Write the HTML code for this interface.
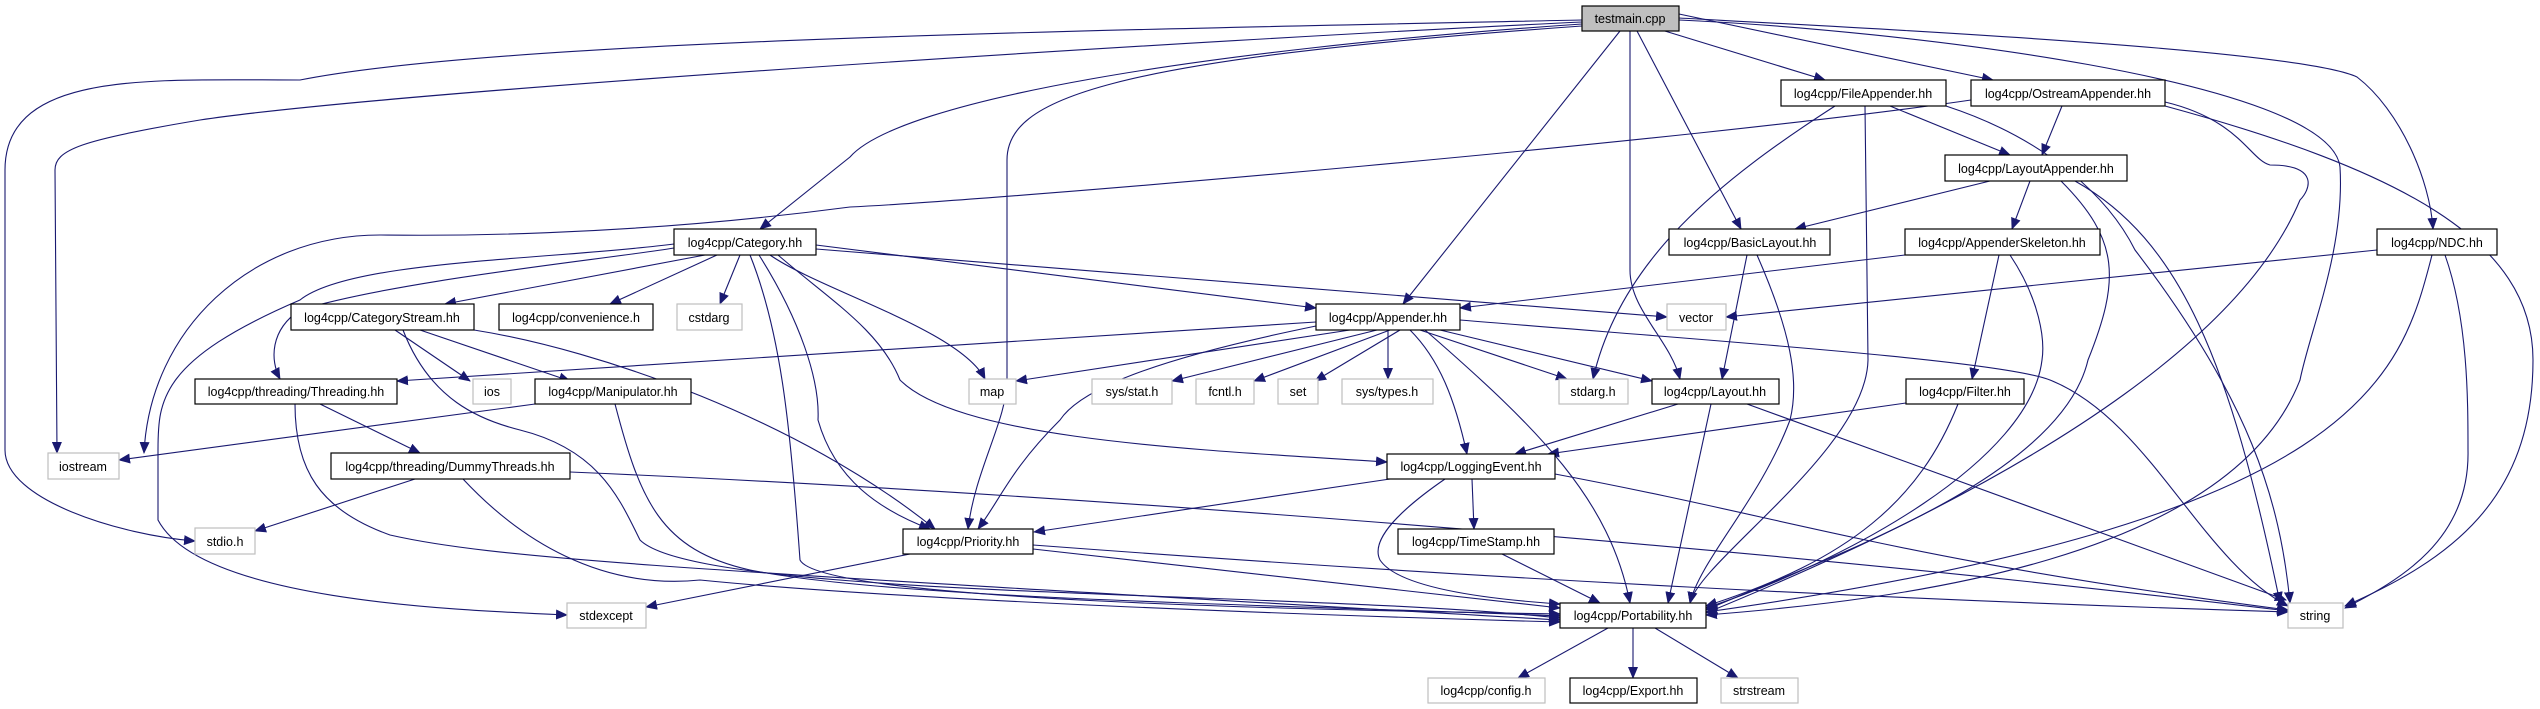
<!DOCTYPE html>
<html><head><meta charset="utf-8"><style>
html,body{margin:0;padding:0;background:#fff;}
svg{display:block;}
text{font-family:"Liberation Sans",Arial,sans-serif;font-size:12.5px;fill:#000;text-anchor:middle;}
.e{fill:none;stroke:#191970;stroke-width:1.1;marker-end:url(#a);}
.n{fill:#fff;stroke:#000;stroke-width:1.2;}
.g{fill:#fff;stroke:#bfbfbf;stroke-width:1.2;}
</style></head><body>
<svg width="2540" height="709" viewBox="0 0 2540 709" xmlns="http://www.w3.org/2000/svg">
<defs><marker id="a" markerUnits="userSpaceOnUse" markerWidth="12" markerHeight="10" refX="11" refY="5" orient="auto"><path d="M0,0 L12,5 L0,10 z" fill="#191970"/></marker></defs>
<!-- testmain edges -->
<path class="e" d="M1582,20 C1100,30 500,40 300,80 C150,80 5,70 5,170 L5,450 C5,500 120,535 195,541"/>
<path class="e" d="M1582,22 C1200,40 400,90 200,120 C80,140 55,150 55,170 L57,453"/>
<path class="e" d="M1582,24 C1200,50 900,100 850,157 L760,229"/>
<path class="e" d="M1582,26 C1100,60 1007,100 1007,160 L1007,380 C1007,420 975,470 968,529"/>
<path class="e" d="M1620,31 L1403,304"/>
<path class="e" d="M1630,31 L1630,270 C1630,310 1670,340 1680,379"/>
<path class="e" d="M1637,31 L1741,229"/>
<path class="e" d="M1655,28 L1825,80"/>
<path class="e" d="M1679,14 L1993,80"/>
<path class="e" d="M1679,18 C1900,30 2300,50 2357,77 C2400,110 2430,180 2433,229"/>
<path class="e" d="M1679,20 C1900,30 2330,80 2340,167 C2345,250 2310,330 2300,380 C2230,560 1900,600 1706,615"/>
<!-- OstreamAppender -->
<path class="e" d="M1971,100 C1700,140 1000,200 850,207 C600,240 400,235 380,235 C250,235 150,330 144,453"/>
<path class="e" d="M2165,106 C2400,170 2533,240 2533,360 C2533,500 2450,560 2345,606"/>
<path class="e" d="M2165,102 C2240,120 2250,160 2270,165 C2320,165 2310,190 2300,200 C2250,320 2080,460 1706,613"/>
<path class="e" d="M2062,106 L2042,155"/>
<!-- FileAppender -->
<path class="e" d="M1890,106 L2010,155"/>
<path class="e" d="M1946,106 C2050,140 2110,200 2135,250 C2250,400 2280,500 2290,603"/>
<path class="e" d="M1865,106 L1868,360 C1866,450 1700,560 1690,603"/>
<path class="e" d="M1835,106 C1720,180 1620,260 1593,379"/>
<!-- LayoutAppender -->
<path class="e" d="M1990,181 L1795,229"/>
<path class="e" d="M2030,181 L2012,229"/>
<path class="e" d="M2061,181 C2120,240 2120,280 2088,360 C2060,480 1820,560 1706,610"/>
<path class="e" d="M2075,181 C2180,240 2230,360 2280,603"/>
<!-- AppenderSkeleton -->
<path class="e" d="M1905,255 L1460,308"/>
<path class="e" d="M1999,255 L1972,379"/>
<path class="e" d="M2010,255 C2040,300 2045,340 2042,360 C2030,460 1850,560 1706,608"/>
<!-- NDC -->
<path class="e" d="M2377,250 L1726,317"/>
<path class="e" d="M2445,255 C2468,320 2468,400 2468,450 C2470,540 2400,580 2345,608"/>
<path class="e" d="M2432,255 C2400,380 2360,520 1706,612"/>
<!-- BasicLayout -->
<path class="e" d="M1747,255 L1722,379"/>
<path class="e" d="M1757,255 C1790,330 1800,380 1790,420 C1760,500 1700,560 1690,603"/>
<!-- Layout -->
<path class="e" d="M1678,404 L1515,454"/>
<path class="e" d="M1711,404 L1668,603"/>
<path class="e" d="M1747,404 L2286,600"/>
<!-- Filter -->
<path class="e" d="M1906,403 L1548,454"/>
<path class="e" d="M1958,404 C1920,500 1850,560 1706,606"/>
<!-- LoggingEvent -->
<path class="e" d="M1390,479 L1034,532"/>
<path class="e" d="M1472,479 L1474,529"/>
<path class="e" d="M1445,479 C1400,510 1370,540 1380,560 C1400,590 1500,600 1560,604"/>
<path class="e" d="M1555,474 C1800,520 1900,560 2288,610"/>
<path class="e" d="M1502,554 L1600,603"/>
<!-- Priority -->
<path class="e" d="M1033,549 L1560,608"/>
<path class="e" d="M1033,545 C1500,580 1900,600 2288,612"/>
<path class="e" d="M910,554 L646,607"/>
<!-- Portability -->
<path class="e" d="M1608,628 L1518,678"/>
<path class="e" d="M1633,628 L1633,678"/>
<path class="e" d="M1655,628 L1738,678"/>
<!-- Category -->
<path class="e" d="M705,255 L445,304"/>
<path class="e" d="M717,255 L610,304"/>
<path class="e" d="M740,255 L720,304"/>
<path class="e" d="M816,245 L1316,308"/>
<path class="e" d="M816,249 L1667,317"/>
<path class="e" d="M770,255 C820,290 960,330 985,379"/>
<path class="e" d="M759,255 C800,320 820,380 818,420 C835,480 880,510 930,529"/>
<path class="e" d="M750,255 C780,330 790,420 800,560 C820,600 1300,610 1560,614"/>
<path class="e" d="M778,255 C830,300 880,330 900,380 C960,440 1200,450 1387,462"/>
<path class="e" d="M674,248 C600,260 400,280 300,310 C270,330 270,360 280,379"/>
<path class="e" d="M674,244 C550,260 350,260 300,300 C160,360 158,400 158,450 L158,520 C200,600 450,610 567,615"/>
<!-- Appender -->
<path class="e" d="M1316,322 L397,381"/>
<path class="e" d="M1350,330 L1016,381"/>
<path class="e" d="M1377,330 L1172,381"/>
<path class="e" d="M1390,330 L1254,381"/>
<path class="e" d="M1400,330 L1315,381"/>
<path class="e" d="M1388,330 L1388,379"/>
<path class="e" d="M1420,330 L1567,379"/>
<path class="e" d="M1440,330 L1652,381"/>
<path class="e" d="M1410,330 C1440,360 1455,400 1467,454"/>
<path class="e" d="M1425,330 C1540,430 1610,500 1630,603"/>
<path class="e" d="M1316,326 C1150,360 1080,390 1060,420 C1010,470 1000,500 978,529"/>
<path class="e" d="M1460,320 C1700,340 2000,360 2050,380 C2150,420 2200,560 2288,606"/>
<!-- CategoryStream -->
<path class="e" d="M395,330 L470,381"/>
<path class="e" d="M420,330 L570,381"/>
<path class="e" d="M474,330 C600,350 800,420 935,529"/>
<path class="e" d="M403,330 C430,400 480,420 520,430 C600,450 620,500 640,540 C700,600 1300,590 1560,618"/>
<!-- Manipulator -->
<path class="e" d="M535,404 L119,460"/>
<path class="e" d="M615,404 C640,500 660,550 750,570 C900,600 1300,605 1560,616"/>
<!-- Threading -->
<path class="e" d="M320,404 L420,453"/>
<path class="e" d="M295,404 C295,470 320,510 390,535 C500,560 700,570 1560,620"/>
<!-- DummyThreads -->
<path class="e" d="M415,479 L255,531"/>
<path class="e" d="M463,479 C520,540 600,590 700,580 C900,600 1300,615 1560,622"/>
<path class="e" d="M570,472 C1000,490 1700,540 2288,611"/>
<!-- nodes -->
<rect x="1582" y="6" width="97" height="25" fill="#bfbfbf" stroke="#000" stroke-width="1.2"/><text x="1630" y="23">testmain.cpp</text>
<rect class="n" x="1781" y="80" width="165" height="26"/><text x="1863" y="98">log4cpp/FileAppender.hh</text>
<rect class="n" x="1971" y="80" width="194" height="26"/><text x="2068" y="98">log4cpp/OstreamAppender.hh</text>
<rect class="n" x="1945" y="155" width="182" height="26"/><text x="2036" y="173">log4cpp/LayoutAppender.hh</text>
<rect class="n" x="674" y="229" width="142" height="26"/><text x="745" y="247">log4cpp/Category.hh</text>
<rect class="n" x="1669" y="229" width="161" height="26"/><text x="1750" y="247">log4cpp/BasicLayout.hh</text>
<rect class="n" x="1905" y="229" width="195" height="26"/><text x="2002" y="247">log4cpp/AppenderSkeleton.hh</text>
<rect class="n" x="2377" y="229" width="120" height="26"/><text x="2437" y="247">log4cpp/NDC.hh</text>
<rect class="n" x="291" y="304" width="183" height="26"/><text x="382" y="322">log4cpp/CategoryStream.hh</text>
<rect class="n" x="499" y="304" width="154" height="26"/><text x="576" y="322">log4cpp/convenience.h</text>
<rect class="g" x="677" y="304" width="65" height="26"/><text x="709" y="322">cstdarg</text>
<rect class="n" x="1316" y="304" width="144" height="26"/><text x="1388" y="322">log4cpp/Appender.hh</text>
<rect class="g" x="1667" y="304" width="59" height="26"/><text x="1696" y="322">vector</text>
<rect class="n" x="195" y="379" width="202" height="25"/><text x="296" y="396">log4cpp/threading/Threading.hh</text>
<rect class="g" x="473" y="379" width="38" height="25"/><text x="492" y="396">ios</text>
<rect class="n" x="535" y="379" width="156" height="25"/><text x="613" y="396">log4cpp/Manipulator.hh</text>
<rect class="g" x="969" y="379" width="47" height="25"/><text x="992" y="396">map</text>
<rect class="g" x="1092" y="379" width="80" height="25"/><text x="1132" y="396">sys/stat.h</text>
<rect class="g" x="1196" y="379" width="58" height="25"/><text x="1225" y="396">fcntl.h</text>
<rect class="g" x="1278" y="379" width="40" height="25"/><text x="1298" y="396">set</text>
<rect class="g" x="1342" y="379" width="91" height="25"/><text x="1387" y="396">sys/types.h</text>
<rect class="g" x="1559" y="379" width="69" height="25"/><text x="1593" y="396">stdarg.h</text>
<rect class="n" x="1652" y="379" width="127" height="25"/><text x="1715" y="396">log4cpp/Layout.hh</text>
<rect class="n" x="1906" y="379" width="118" height="25"/><text x="1965" y="396">log4cpp/Filter.hh</text>
<rect class="g" x="48" y="453" width="71" height="26"/><text x="83" y="471">iostream</text>
<rect class="n" x="331" y="453" width="239" height="26"/><text x="450" y="471">log4cpp/threading/DummyThreads.hh</text>
<rect class="n" x="1387" y="454" width="168" height="25"/><text x="1471" y="471">log4cpp/LoggingEvent.hh</text>
<rect class="g" x="195" y="528" width="60" height="26"/><text x="225" y="546">stdio.h</text>
<rect class="n" x="903" y="529" width="130" height="25"/><text x="968" y="546">log4cpp/Priority.hh</text>
<rect class="n" x="1398" y="529" width="156" height="25"/><text x="1476" y="546">log4cpp/TimeStamp.hh</text>
<rect class="g" x="567" y="603" width="79" height="25"/><text x="606" y="620">stdexcept</text>
<rect class="n" x="1560" y="603" width="146" height="25"/><text x="1633" y="620">log4cpp/Portability.hh</text>
<rect class="g" x="2288" y="603" width="55" height="25"/><text x="2315" y="620">string</text>
<rect class="g" x="1428" y="678" width="117" height="25"/><text x="1486" y="695">log4cpp/config.h</text>
<rect class="n" x="1570" y="678" width="127" height="25"/><text x="1633" y="695">log4cpp/Export.hh</text>
<rect class="g" x="1721" y="678" width="77" height="25"/><text x="1759" y="695">strstream</text>
</svg>
</body></html>
